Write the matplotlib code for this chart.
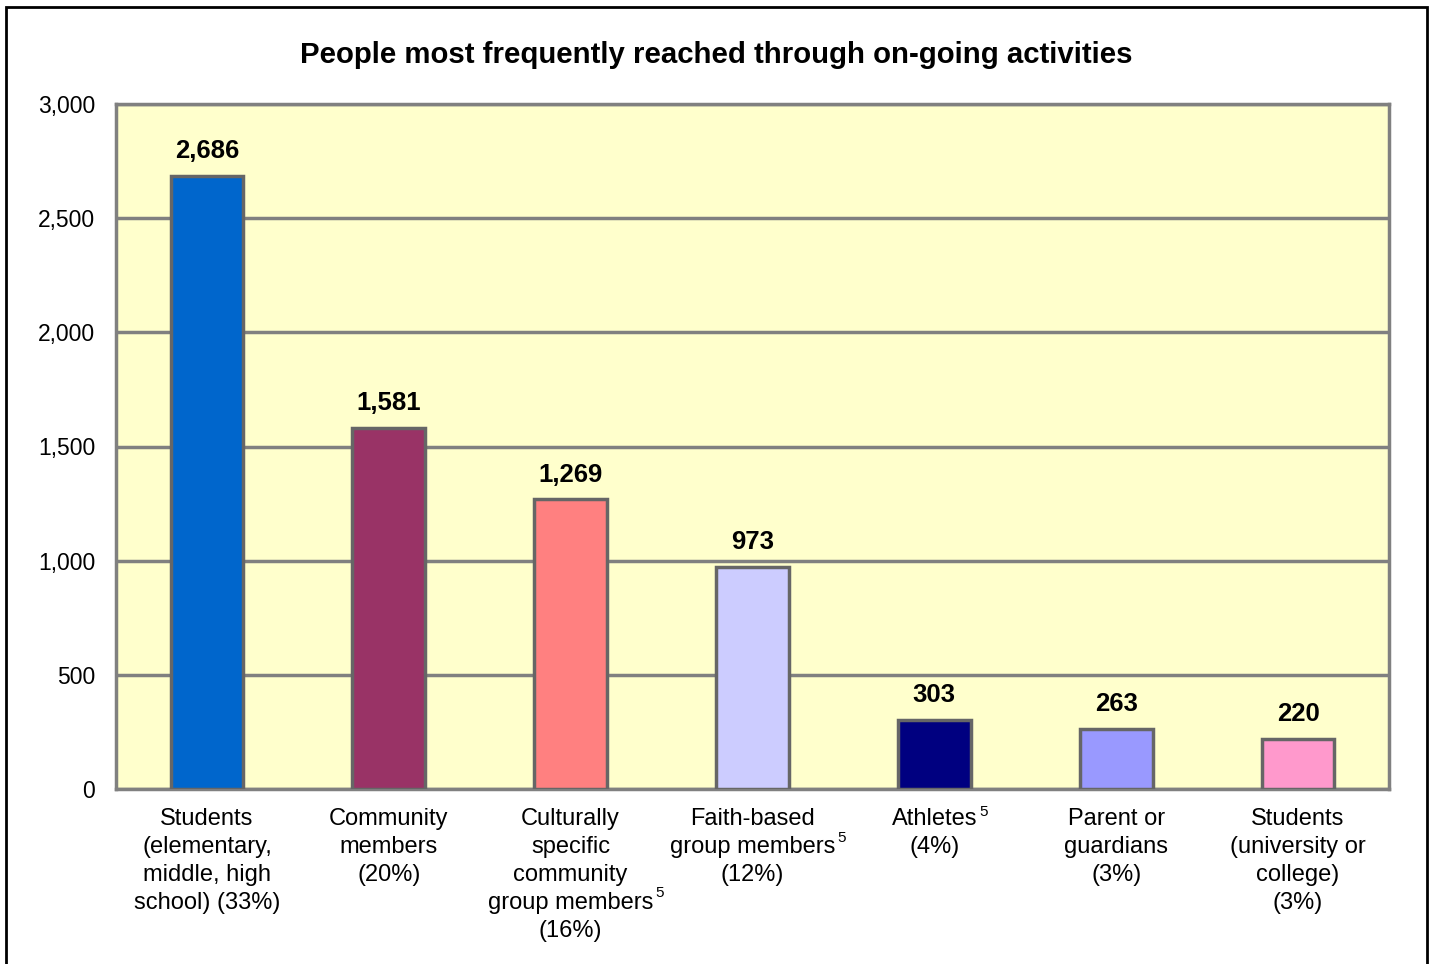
import matplotlib.pyplot as plt
from matplotlib.patches import Rectangle

plt.rcParams['font.family'] = ['Liberation Sans', 'DejaVu Sans']

categories = [
    "Students\n(elementary,\nmiddle, high\nschool) (33%)",
    "Community\nmembers\n(20%)",
    "Culturally\nspecific\ncommunity\ngroup members\n(16%)",
    "Faith-based\ngroup members\n(12%)",
    "Athletes\n(4%)",
    "Parent or\nguardians\n(3%)",
    "Students\n(university or\ncollege)\n(3%)",
]
# footnote mark "5": category index -> line of the label that carries it
footnotes = {2: 3, 3: 1, 4: 0}
values = [2686, 1581, 1269, 973, 303, 263, 220]
colors = ['#0066CC', '#993366', '#FF8080', '#CCCCFF', '#000080', '#9999FF', '#FF99CC']
yticks = [0, 500, 1000, 1500, 2000, 2500, 3000]

W, H = 1433, 964
fig = plt.figure(figsize=(W/100, H/100), dpi=100)
ax = fig.add_axes([116/W, 1 - 789/H, (1389-116)/W, (789-104)/H])
ax.set_facecolor('#FFFFCC')

x = range(len(values))
ax.bar(x, values, width=0.4, color=colors, edgecolor='#666666', linewidth=2.5, zorder=3)
for xi, v in zip(x, values):
    ax.text(xi, v + 55, f"{v:,}", ha='center', va='bottom', fontsize=18.5, fontweight='bold')

ax.set_xlim(-0.5, len(values) - 0.5)
ax.set_ylim(0, 3000)
ax.set_yticks(yticks)
ax.set_yticklabels([f"{t:,}" for t in yticks], fontsize=16.5)
ax.set_xticks(list(x))
ax.set_xticklabels(categories, fontsize=17, linespacing=1.35, va='top')
ax.tick_params(length=0, pad=15)
ax.tick_params(axis='x', pad=14)
ax.yaxis.grid(True, color='#808080', linewidth=2.5, zorder=1)
for s in ax.spines.values():
    s.set_color('#808080')
    s.set_linewidth(2.5)

fig.text(716/W, 1 - 55/H, "People most frequently reached through on-going activities",
         ha='center', va='center', fontsize=21.2, fontweight='bold')

# superscript footnote marks next to the right line of each label
fig.canvas.draw()
r = fig.canvas.get_renderer()
labels = ax.get_xticklabels()
for i, li in footnotes.items():
    bb = labels[i].get_window_extent(r)
    lines = categories[i].split('\n')
    tmp = fig.text(0, 0, lines[li], fontsize=17)
    w = tmp.get_window_extent(r).width
    tmp.remove()
    line_h = bb.height / len(lines)
    xr = (bb.x0 + bb.x1) / 2 + w / 2 + 2
    ytop = bb.y1 - li * line_h + 3
    fig.text(xr / W, ytop / H, "5", fontsize=11, ha='left', va='top')

fig.patches.append(Rectangle((6/W, -0.01), (1427-6)/W, 1 - 7/H + 0.01,
                             transform=fig.transFigure, fill=False, edgecolor='black', linewidth=2))

fig.savefig('out.png', dpi=100)
